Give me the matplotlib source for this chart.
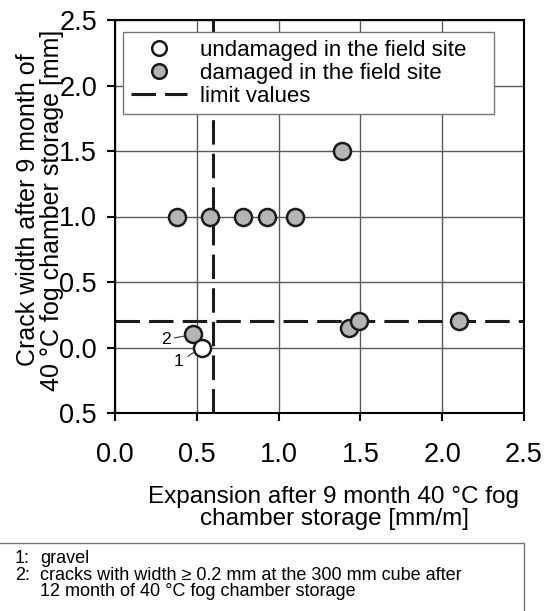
import matplotlib
matplotlib.use("Agg")
import matplotlib.pyplot as plt
from matplotlib.lines import Line2D
from matplotlib.patches import Rectangle

plt.rcParams['font.family'] = ['Liberation Sans', 'DejaVu Sans']

# expansion [mm/m] vs crack width [mm]
undamaged_x = [0.53]
undamaged_y = [0.0]
damaged_x = [0.38, 0.58, 0.78, 0.93, 1.10, 1.39, 0.475, 1.43, 1.49, 2.10]
damaged_y = [1.0, 1.0, 1.0, 1.0, 1.0, 1.5, 0.1, 0.15, 0.2, 0.2]
limit_expansion = 0.6
limit_crack = 0.2

xticks = [0.0, 0.5, 1.0, 1.5, 2.0, 2.5]
yticks = [-0.5, 0.0, 0.5, 1.0, 1.5, 2.0, 2.5]
ytick_labels = ['0.5', '0.0', '0.5', '1.0', '1.5', '2.0', '2.5']

W, H = 544, 611
fig = plt.figure(figsize=(W / 100, H / 100), dpi=100)
ax = fig.add_axes([115 / W, 1 - 413 / H, (524 - 115) / W, (413 - 20) / H])

ax.set_xlim(0, 2.5)
ax.set_ylim(-0.5, 2.5)
ax.set_xticks(xticks)
ax.set_xticklabels([f'{v:.1f}' for v in xticks])
ax.set_yticks(yticks)
ax.set_yticklabels(ytick_labels)
ax.grid(True, color='#5a5a5a', lw=1.0)
ax.set_axisbelow(True)
for s in ax.spines.values():
    s.set_linewidth(1.5)
ax.tick_params(direction='out', length=6, width=1.5, labelsize=19.5)
ax.tick_params(axis='x', pad=15)
ax.tick_params(axis='y', pad=7)

dash_kw = dict(color='#1a1a1a', lw=2.2, dashes=(8, 3))
ax.axvline(limit_expansion, zorder=2, **dash_kw)
ax.axhline(limit_crack, zorder=2, **dash_kw)

mk = dict(s=150, linewidths=1.8, edgecolors='#1a1a1a', zorder=3)
ax.scatter(damaged_x, damaged_y, facecolors='#b4b4b4', **mk)
ax.scatter(undamaged_x, undamaged_y, facecolors='white', **mk)

# numbered notes beside the two points near the origin
arrow = dict(arrowstyle='-', lw=0.8, color='#333333', shrinkA=1, shrinkB=6)
ax.annotate('2', xy=(damaged_x[6], damaged_y[6]), xytext=(0.31, 0.06),
            fontsize=12.5, ha='center', va='center', arrowprops=arrow)
ax.annotate('1', xy=(undamaged_x[0], undamaged_y[0]), xytext=(0.39, -0.11),
            fontsize=12.5, ha='center', va='center', arrowprops=arrow)

handles = [
    Line2D([], [], ls='none', marker='o', ms=10.5, mfc='white', mec='#1a1a1a', mew=1.8),
    Line2D([], [], ls='none', marker='o', ms=10.5, mfc='#b4b4b4', mec='#1a1a1a', mew=1.8),
    Line2D([], [], **dash_kw),
]
labels = ['undamaged in the field site', 'damaged in the field site', 'limit values']
leg = ax.legend(handles, labels, loc='upper left',
                bbox_to_anchor=(0.02, 0.969, (494 - 123) / 409, 0), mode='expand',
                borderaxespad=0, fontsize=16, frameon=True, fancybox=False,
                edgecolor='#777777', framealpha=1, handlelength=2.5,
                handletextpad=0.6, borderpad=0.35, labelspacing=0.08)
leg.get_frame().set_linewidth(1.0)
leg.set_zorder(5)

fig.text(40 / W, 1 - 210 / H, 'Crack width after 9 month of\n40 °C fog chamber storage [mm]',
         rotation=90, ha='center', va='center', fontsize=18, linespacing=0.95)
fig.text(334 / W, 1 - 508 / H, 'Expansion after 9 month 40 °C fog\nchamber storage [mm/m]',
         ha='center', va='center', fontsize=17.5, linespacing=1.05)

# footnote box
fig.patches.append(Rectangle((-0.01, -0.01), 524 / W + 0.01, 0.01 + (H - 543) / H,
                             transform=fig.transFigure, fill=False,
                             edgecolor='#777777', lw=1.0))
notes = [('1:', 'gravel'),
         ('2:', 'cracks with width \u2265 0.2 mm at the 300 mm cube after'),
         ('', '12 month of 40 °C fog chamber storage')]
for i, (num, txt) in enumerate(notes):
    yb = 1 - (563 + 16.5 * i) / H
    fig.text(15 / W, yb, num, fontsize=13, va='baseline')
    fig.text(40 / W, yb, txt, fontsize=13, va='baseline')

fig.savefig('out.png', dpi=100)
